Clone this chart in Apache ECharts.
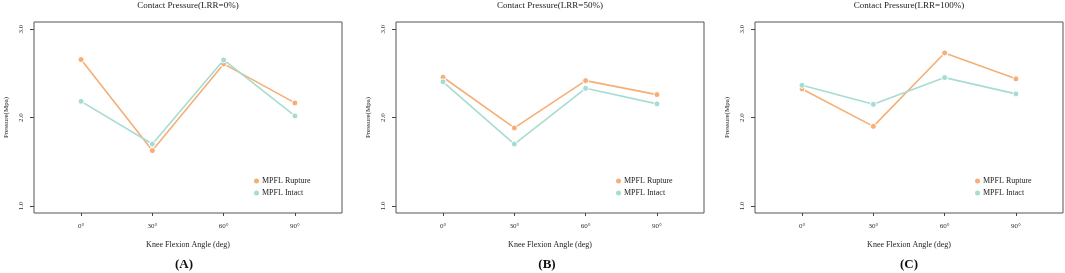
<!DOCTYPE html>
<html>
<head>
<meta charset="utf-8">
<script src="https://cdn.jsdelivr.net/npm/echarts@6/dist/echarts.min.js"></script>
<style>html,body{margin:0;padding:0;background:#fff;}#c{width:1065px;height:273px;}</style>
</head>
<body>
<div id="c"></div>
<script>
var angles = [0, 30, 60, 90];
var angleLabels = ['0°', '30°', '60°', '90°'];
var yTicks = [1, 2, 3];
var panelTitles = ['Contact Pressure(LRR=0%)', 'Contact Pressure(LRR=50%)', 'Contact Pressure(LRR=100%)'];
var panelLetters = ['(A)', '(B)', '(C)'];
var seriesNames = ['MPFL Rupture', 'MPFL Intact'];
var ruptureA = [2.655, 1.626, 2.606, 2.165];
var intactA  = [2.183, 1.700, 2.651, 2.018];
var ruptureB = [2.455, 1.882, 2.417, 2.259];
var intactB  = [2.403, 1.700, 2.330, 2.154];
var ruptureC = [2.323, 1.900, 2.730, 2.437];
var intactC  = [2.364, 2.149, 2.451, 2.267];

var rupture = [ruptureA, ruptureB, ruptureC];
var intact = [intactA, intactB, intactC];
var colors = ['#F5AF76', '#A6DCD3'];
var font = 'Liberation Serif, Times New Roman, serif';
var gridLefts = [34, 396, 755];
var letterOffsets = [-4, -3, 0];
var gridW = 308;

var grids = [], xAxes = [], yAxes = [], series = [], legends = [], graphics = [];
function pts(vals) { return angles.map(function (a, i) { return [a, vals[i]]; }); }
for (var p = 0; p < 3; p++) {
  var L = gridLefts[p];
  grids.push({left: L, top: 22, width: gridW, height: 191, show: true, borderColor: '#555', borderWidth: 1, backgroundColor: 'transparent'});
  xAxes.push({
    type: 'value', gridIndex: p, min: -19.8, max: 109.8, position: 'bottom',
    name: 'Knee Flexion Angle (deg)', nameLocation: 'middle', nameGap: 28,
    nameTextStyle: {fontFamily: font, fontSize: 8, color: '#222'},
    axisLine: {show: false, onZero: false}, splitLine: {show: false},
    axisTick: {show: true, length: 3, customValues: angles, lineStyle: {color: '#444', width: 1}},
    axisLabel: {customValues: angles, margin: 10, fontFamily: font, fontSize: 7, color: '#333',
      formatter: function (v) { var i = angles.indexOf(v); return i >= 0 ? angleLabels[i] : ''; }}
  });
  yAxes.push({
    type: 'value', gridIndex: p, min: 0.92, max: 3.08, position: 'left',
    name: 'Pressure(Mpa)', nameLocation: 'middle', nameGap: 24, nameRotate: 90,
    nameTextStyle: {fontFamily: font, fontSize: 7, color: '#222'},
    axisLine: {show: false, onZero: false}, splitLine: {show: false},
    axisTick: {show: true, length: 4, customValues: yTicks, lineStyle: {color: '#444', width: 1}},
    axisLabel: {customValues: yTicks, rotate: 90, margin: 9, fontFamily: font, fontSize: 7, color: '#333',
      formatter: function (v) { return v.toFixed(1); }}
  });
  var sets = [rupture[p], intact[p]];
  for (var s = 0; s < 2; s++) {
    series.push({
      type: 'line', name: seriesNames[s], xAxisIndex: p, yAxisIndex: p,
      data: pts(sets[s]), symbol: 'circle', symbolSize: 6, showSymbol: true,
      lineStyle: {color: colors[s], width: 1.6},
      itemStyle: {color: colors[s], borderColor: '#fff', borderWidth: 1},
      emphasis: {disabled: true}, animation: false, z: 2 + s
    });
  }
  graphics.push({type: 'text', x: L + gridW / 2, y: 6,
    style: {text: panelTitles[p], x: 0, y: 0, textAlign: 'center', textVerticalAlign: 'middle',
      font: 'normal 9px ' + font, fill: '#222'}});
  graphics.push({type: 'text', x: L + gridW / 2 + letterOffsets[p], y: 265,
    style: {text: panelLetters[p], x: 0, y: 0, textAlign: 'center', textVerticalAlign: 'middle',
      font: 'bold 13px ' + font, fill: '#111'}});
  legends.push({
    left: L + 215, top: 172, orient: 'vertical', icon: 'circle', itemWidth: 5, itemHeight: 5, itemGap: 4,
    data: seriesNames.map(function (n, i) { return {name: n, itemStyle: {color: colors[i], borderWidth: 0}}; }),
    textStyle: {fontFamily: font, fontSize: 8, color: '#222', padding: [0, 0, 0, -2]},
    selectedMode: false
  });
}

var chart = echarts.init(document.getElementById('c'), null, {renderer: 'canvas'});
chart.setOption({
  animation: false,
  color: colors,
  legend: legends,
  grid: grids,
  xAxis: xAxes,
  yAxis: yAxes,
  series: series,
  graphic: graphics
});
</script>
</body>
</html>
